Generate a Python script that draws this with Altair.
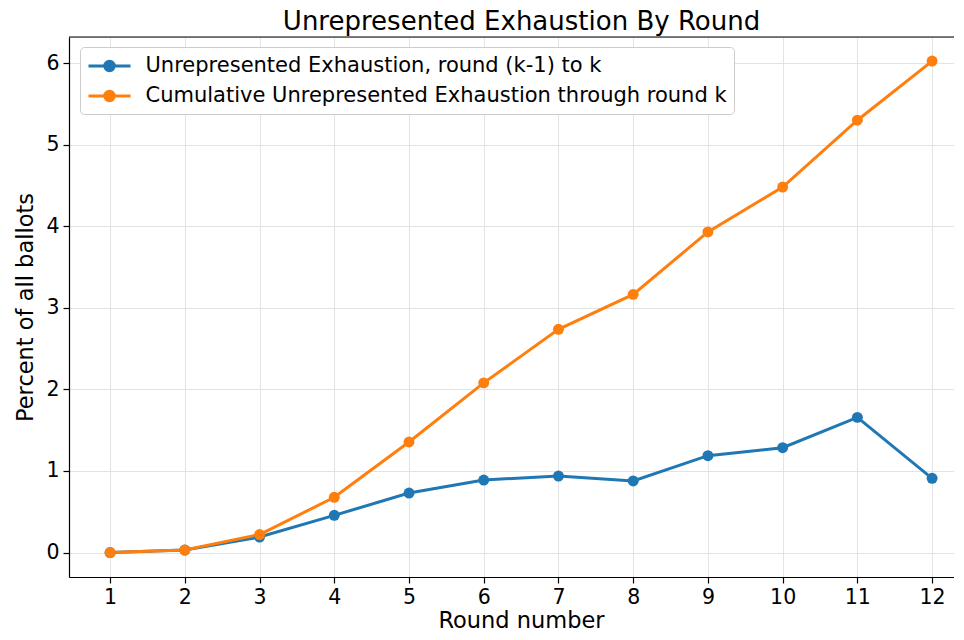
import altair as alt
import pandas as pd

rounds = [1, 2, 3, 4, 5, 6, 7, 8, 9, 10, 11, 12]
per_round = [0.0, 0.03, 0.19, 0.456, 0.729, 0.889, 0.938, 0.877, 1.187, 1.285, 1.657, 0.91]
cumulative = [0.0, 0.03, 0.22, 0.677, 1.355, 2.08, 2.736, 3.165, 3.93, 4.48, 5.30, 6.025]
series_names = [
    "Unrepresented Exhaustion, round (k-1) to k",
    "Cumulative Unrepresented Exhaustion through round k",
]
colors = ["#1f77b4", "#ff7f0e"]

rows = []
for i, r in enumerate(rounds):
    rows.append({"round": r, "value": per_round[i], "series": series_names[0], "order": 0})
for i, r in enumerate(rounds):
    rows.append({"round": r, "value": cumulative[i], "series": series_names[1], "order": 1})
df = pd.DataFrame(rows)

FONT = "DejaVu Sans"
W, H = 885, 540

xscale = alt.Scale(domain=[0.45, 12.293], nice=False, zero=False)
yscale = alt.Scale(domain=[-0.30, 6.32], nice=False, zero=False)
cscale = alt.Scale(domain=series_names, range=colors)

xaxis = alt.Axis(values=rounds, format="d", title="Round number", titleX=452,
                 labelFontSize=20.5, titleFontSize=22.5, labelPadding=4, titlePadding=2,
                 tickSize=6, tickWidth=1.2, tickColor="black", domainColor="black",
                 domainWidth=1.2, gridColor="#e3e3e3", gridWidth=1, labelColor="black",
                 titleColor="black", labelFont=FONT, titleFont=FONT, titleFontWeight="normal")
yaxis = alt.Axis(values=[0, 1, 2, 3, 4, 5, 6], format="d", title="Percent of all ballots",
                 labelFontSize=20.5, titleFontSize=22.5, labelPadding=4, titlePadding=8,
                 tickSize=6, tickWidth=1.2, tickColor="black", domainColor="black",
                 domainWidth=1.2, gridColor="#e3e3e3", gridWidth=1, labelColor="black",
                 titleColor="black", labelFont=FONT, titleFont=FONT, titleFontWeight="normal")

legend_path = "M-2,0L2,0M-0.45,0A0.45,0.45,0,1,1,0.45,0A0.45,0.45,0,1,1,-0.45,0Z"
legend = alt.Legend(title=None, orient="none", legendX=11, legendY=10,
                    symbolType=legend_path, symbolSize=441, symbolStrokeWidth=3,
                    symbolOffset=10.5, labelOffset=24, labelFontSize=21, labelFont=FONT,
                    labelColor="black", rowPadding=7, padding=7, fillColor="white",
                    strokeColor="#cccccc", cornerRadius=4, labelLimit=800)

base = alt.Chart(df)

lines = base.mark_line(strokeWidth=3).encode(
    x=alt.X("round:Q", scale=xscale, axis=xaxis),
    y=alt.Y("value:Q", scale=yscale, axis=yaxis),
    color=alt.Color("series:N", scale=cscale, legend=legend),
    detail="series:N",
)
points = base.mark_point(filled=True, size=120, opacity=1).encode(
    x=alt.X("round:Q", scale=xscale),
    y=alt.Y("value:Q", scale=yscale),
    color=alt.Color("series:N", scale=cscale, legend=legend),
    order="order:Q",
)
top_spine = alt.Chart(pd.DataFrame({"a": [0]})).mark_rule(color="black", strokeWidth=1.2).encode(
    x=alt.value(0), x2=alt.value(W), y=alt.value(0)
)

chart = alt.layer(lines, points, top_spine).properties(
    width=W, height=H,
    title=alt.TitleParams("Unrepresented Exhaustion By Round", fontSize=26, font=FONT,
                          fontWeight="normal", color="black", dx=10, offset=1),
    padding={"left": 61, "top": 29, "right": 0, "bottom": 55},
).configure_view(stroke=None).configure(autosize=alt.AutoSizeParams(type="none"))

chart.save("out.html", embed_options={"renderer": "svg", "actions": False})
